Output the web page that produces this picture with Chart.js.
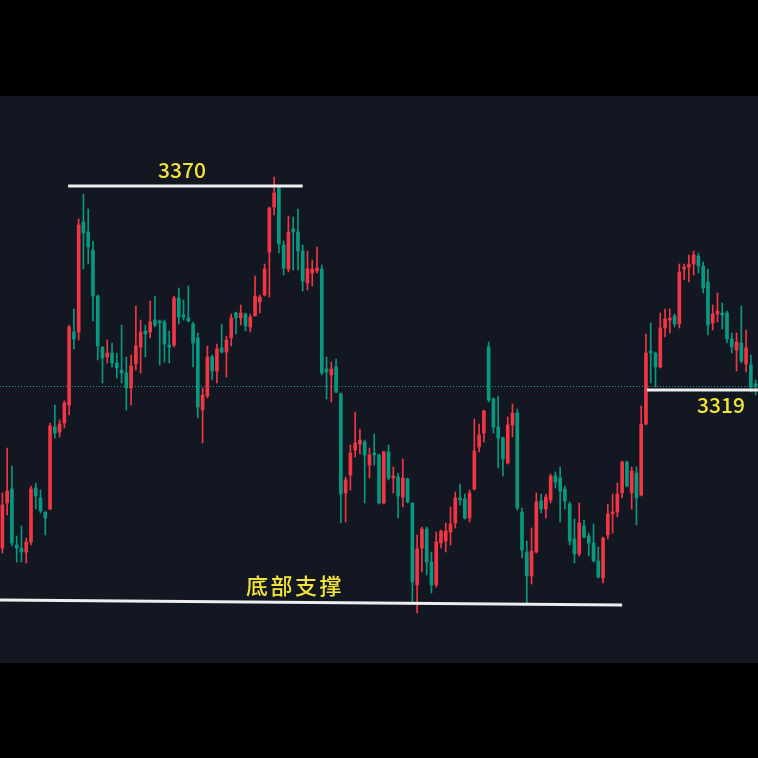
<!DOCTYPE html>
<html>
<head>
<meta charset="utf-8">
<script src="https://cdn.jsdelivr.net/npm/chart.js@4"></script>
<style>
  html, body { margin: 0; padding: 0; background: #000; }
  #wrap { width: 758px; height: 758px; position: relative; }
</style>
</head>
<body>
<div id="wrap"><canvas id="kChart"></canvas></div>
<script>
// K线数据
const categories = Array.from({ length: 159 }, (_, i) => String(i + 1));

const opens = [
  3279.5, 3290.75, 3294.25, 3280.25, 3279.5, 3278.5, 3281, 3294.5, 3292, 3288.5,
  3289.25, 3309.75, 3308.5, 3310.75, 3315.25, 3333.5, 3333.5, 3361, 3358.5, 3354,
  3342.5, 3329.75, 3327.25, 3328.25, 3325.75, 3324, 3323.25, 3319.5, 3325.5, 3329.75,
  3333.75, 3333.5, 3336.5, 3336.25, 3336, 3330.25, 3330.25, 3342, 3337.75, 3337,
  3335.5, 3332, 3314, 3317.5, 3327.25, 3323.75, 3329.5, 3328.5, 3332, 3338.25,
  3337, 3338, 3334.75, 3337.5, 3341, 3342.75, 3353.5, 3364.75, 3369.5, 3355.25,
  3349.25, 3359.25, 3358.5, 3353.75, 3345.75, 3348.25, 3348.75, 3349.25, 3324.25, 3322.75,
  3324.75, 3318, 3293.25, 3297.75, 3304, 3305.5, 3306, 3300.25, 3303.25, 3302.75,
  3290.75, 3303.5, 3297, 3297.25, 3292.25, 3296.75, 3290.75, 3270.25, 3279.5, 3284.25,
  3276, 3270.25, 3280.75, 3281.25, 3283.5, 3285.75, 3292, 3291.75, 3287, 3294.25,
  3304.75, 3308.25, 3329.75, 3316.75, 3309.75, 3307, 3300.75, 3310.25, 3313.25, 3288.5,
  3278.5, 3272.5, 3278.5, 3291.25, 3289.25, 3291.5, 3297.5, 3297, 3294.25, 3290.5,
  3281.75, 3278, 3285, 3282.5, 3280.75, 3276.25, 3272, 3282.75, 3288, 3288.5,
  3293.25, 3301, 3293.25, 3298.25, 3292.75, 3310.5, 3328.75, 3328.25, 3324.75, 3334.5,
  3336.5, 3337.5, 3335.5, 3349.25, 3349.75, 3350.5, 3352.5, 3350, 3346, 3335.75,
  3338, 3338.25, 3338.25, 3331.75, 3329, 3330.75, 3325.5, 3325.25, 3320.5
];
const highs = [
  3293.25, 3304.5, 3300, 3282.5, 3285, 3282, 3295, 3295.75, 3294, 3288.5,
  3310.75, 3315.25, 3311.5, 3316.25, 3335.25, 3339.25, 3361.75, 3368, 3364.25, 3356.25,
  3342.75, 3329.75, 3331.5, 3330.75, 3328.25, 3335.25, 3327.25, 3327.75, 3340, 3336.5,
  3335.25, 3341.25, 3342.5, 3336.5, 3336.5, 3333.75, 3342.5, 3344.5, 3341.5, 3345,
  3336, 3333.25, 3319.5, 3330, 3327.75, 3330.5, 3335.5, 3332.5, 3338, 3338.5,
  3340.25, 3338.25, 3338, 3347.5, 3342.75, 3350.5, 3364.75, 3372.25, 3369.75, 3356.25,
  3362.5, 3362.25, 3364.25, 3355.25, 3353.75, 3351.5, 3354.75, 3350.25, 3327.25, 3326,
  3326.75, 3318.25, 3297.25, 3305.25, 3313.5, 3309.25, 3306.5, 3304.5, 3308, 3303,
  3303.75, 3305.25, 3299.75, 3298.25, 3301.75, 3297, 3290.75, 3282.75, 3284.75, 3284.75,
  3278.5, 3283.5, 3284, 3285.75, 3289.75, 3293.5, 3295.5, 3293, 3294, 3311.75,
  3310.5, 3314, 3331, 3317, 3317.5, 3307.25, 3312.25, 3315.5, 3314.25, 3289.5,
  3281.25, 3284.5, 3293.25, 3293, 3293, 3298, 3298.5, 3299.75, 3295, 3291,
  3286.75, 3290.75, 3286.5, 3283.25, 3285.5, 3279.75, 3282.25, 3290.5, 3293, 3295.75,
  3301.25, 3301.25, 3299.75, 3299.75, 3315, 3333, 3335.75, 3328.5, 3338.25, 3339.25,
  3339.25, 3338, 3350.5, 3350.5, 3352.75, 3353.75, 3353.25, 3351, 3349.25, 3340.25,
  3343.25, 3340.75, 3338.75, 3333.25, 3333.25, 3340, 3334, 3327.75, 3321.5
];
const lows = [
  3278.25, 3287.75, 3280, 3276, 3276, 3275.75, 3280.25, 3289.25, 3288.25, 3282.75,
  3289, 3307, 3307.25, 3309.5, 3312.75, 3329.25, 3331.5, 3349.25, 3350.5, 3336.25,
  3326.5, 3320.75, 3325.75, 3324.75, 3322, 3320.75, 3314, 3315.25, 3324, 3323.25,
  3327.25, 3332, 3334.75, 3325.25, 3326, 3325.75, 3329.75, 3335.5, 3336.5, 3336,
  3324.75, 3312, 3305.75, 3317, 3321.5, 3320.75, 3328.25, 3322.25, 3330, 3333,
  3335.25, 3333.75, 3333.5, 3337.5, 3338.25, 3342.5, 3342.25, 3362.75, 3353.25, 3347.75,
  3348.5, 3349, 3349, 3343.75, 3344, 3345, 3348.25, 3322.75, 3316.75, 3316,
  3318.25, 3285.75, 3286, 3294, 3302.25, 3303, 3290.75, 3297, 3300.25, 3290.5,
  3290.5, 3296.5, 3293.25, 3287, 3289.75, 3290.75, 3266, 3263.25, 3273.5, 3272.75,
  3268.25, 3269.75, 3279.5, 3278.5, 3280.25, 3284.5, 3290.25, 3286.75, 3286, 3294,
  3303.5, 3306, 3316, 3308.25, 3299.5, 3297.5, 3300.5, 3307.25, 3289, 3277,
  3265.75, 3270.5, 3278.25, 3288.25, 3287, 3290.75, 3294.5, 3286, 3289.25, 3280.25,
  3275.75, 3277.5, 3282, 3277.5, 3276, 3272, 3270.75, 3281.75, 3283.25, 3287.25,
  3292, 3294.75, 3289.25, 3285.25, 3292.5, 3310.25, 3320.75, 3319.75, 3324.5, 3332.25,
  3333.25, 3334.75, 3334.5, 3346.5, 3346, 3347.75, 3348.25, 3343.25, 3332.75, 3334,
  3336, 3334.25, 3330.75, 3328.25, 3323.75, 3325.75, 3323.5, 3318.5, 3317.75
];
const closes = [
  3290.25, 3293.75, 3280.75, 3279.5, 3278.5, 3281, 3294.25, 3292.5, 3288.75, 3287,
  3310, 3308.25, 3310.5, 3315.75, 3334.75, 3331.75, 3360.25, 3358.25, 3354.75, 3342.5,
  3330, 3327, 3328.25, 3325.75, 3324.5, 3323.25, 3319.5, 3325, 3330, 3333.5,
  3333, 3336, 3335.25, 3335.75, 3330.5, 3329.75, 3342, 3337.25, 3337.25, 3336.25,
  3330.75, 3314.75, 3317.75, 3327.25, 3323.75, 3329.25, 3328.5, 3331.5, 3337, 3337,
  3338.25, 3335, 3337.25, 3342.5, 3342.25, 3349.25, 3364.5, 3368.25, 3355.5, 3349.5,
  3358.5, 3358.5, 3353.75, 3346.25, 3349.25, 3349.25, 3349.5, 3323.25, 3323.5, 3324.25,
  3318.5, 3293, 3296.5, 3303.25, 3305.75, 3306.5, 3302.75, 3302.75, 3302.75, 3290.75,
  3303.5, 3297, 3297.5, 3292.5, 3297, 3291, 3271, 3279.25, 3284.25, 3276,
  3270.25, 3281, 3283.75, 3283.75, 3285.5, 3292, 3291.5, 3287, 3293.25, 3303.75,
  3307.75, 3313.75, 3316.5, 3309.75, 3307, 3301.75, 3310.25, 3313.25, 3289.5, 3279,
  3272.5, 3278.75, 3291, 3289.25, 3292.25, 3297.5, 3296, 3293.75, 3291.25, 3281.25,
  3278, 3285.75, 3282.25, 3280.75, 3276.25, 3272.25, 3282, 3288, 3288.5, 3293,
  3301, 3295, 3298.75, 3292, 3310.5, 3328.25, 3328.25, 3324.75, 3334.5, 3336.75,
  3337, 3335.5, 3348.5, 3349.75, 3350.5, 3352.75, 3350, 3344.5, 3335.25, 3338,
  3338.75, 3337.75, 3331.75, 3329.75, 3331, 3326.25, 3329.5, 3319.75, 3320
];

// 标注
const resistanceLevel = 3370;
const pivotLevel = 3319;
const supportLevels = [3266.5, 3265.25];
const levelTexts = ['3370', '3319', '底部支撑'];

const upColor = '#f23645';
const downColor = '#089981';
const candleColors = opens.map((o, i) => closes[i] >= o ? upColor : downColor);

const overlay = {
  id: 'overlay',
  beforeDraw(chart) {
    const ctx = chart.ctx;
    ctx.save();
    ctx.fillStyle = '#000';
    ctx.fillRect(0, 0, chart.width, chart.height);
    ctx.fillStyle = '#131722';
    ctx.fillRect(0, 96, chart.width, 567);
    ctx.restore();
  },
  beforeDatasetsDraw(chart) {
    const ctx = chart.ctx;
    const y = Math.round(chart.scales.y.getPixelForValue(closes[closes.length - 1])) + 0.5;
    ctx.save();
    ctx.strokeStyle = '#1f9a86';
    ctx.lineWidth = 1;
    ctx.setLineDash([1, 2]);
    ctx.beginPath();
    ctx.moveTo(0, y);
    ctx.lineTo(chart.width, y);
    ctx.stroke();
    ctx.restore();
  },
  afterDatasetsDraw(chart) {
    const ctx = chart.ctx;
    const xs = chart.scales.x, ys = chart.scales.y;
    const area = chart.chartArea;
    ctx.save();
    ctx.strokeStyle = '#eeeeee';
    ctx.lineWidth = 3;
    // 3370 压力线
    let y1 = ys.getPixelForValue(resistanceLevel);
    ctx.beginPath();
    ctx.moveTo(xs.getPixelForValue(14) - 1, y1);
    ctx.lineTo(xs.getPixelForValue(63), y1);
    ctx.stroke();
    // 3319
    let y2 = ys.getPixelForValue(pivotLevel);
    ctx.beginPath();
    ctx.moveTo(xs.getPixelForValue(135) + 1, y2);
    ctx.lineTo(area.right, y2);
    ctx.stroke();
    // 底部支撑
    ctx.beginPath();
    ctx.moveTo(area.left, ys.getPixelForValue(supportLevels[0]));
    ctx.lineTo(xs.getPixelForValue(130), ys.getPixelForValue(supportLevels[1]));
    ctx.stroke();

    ctx.fillStyle = '#f2e338';
    ctx.font = '500 21px "Noto Sans CJK SC"';
    ctx.textAlign = 'center';
    ctx.fillText(levelTexts[0], 182, y1 - 8);
    ctx.textAlign = 'left';
    ctx.fillText(levelTexts[1], 697, y2 + 23);
    ctx.font = '500 22px "Noto Sans CJK SC"';
    const chars = Array.from(levelTexts[2]);
    chars.forEach((ch, i) => ctx.fillText(ch, 246 + i * 24.5, 594));
    ctx.restore();
  }
};

const config = {
  type: 'bar',
  data: {
    labels: categories,
    datasets: [
      {
        label: 'wick',
        data: lows.map((l, i) => [l, highs[i]]),
        backgroundColor: candleColors,
        barThickness: 1,
        grouped: false,
        order: 2
      },
      {
        label: 'body',
        data: opens.map((o, i) => [o, closes[i]]),
        backgroundColor: candleColors,
        barThickness: 3,
        minBarLength: 1,
        grouped: false,
        order: 1
      }
    ]
  },
  options: {
    responsive: true,
    maintainAspectRatio: false,
    animation: false,
    devicePixelRatio: 1,
    events: [],
    layout: { padding: 0 },
    scales: {
      x: { display: false, offset: true },
      y: { display: false, min: 3227, max: 3416.5 }
    },
    plugins: {
      legend: { display: false },
      tooltip: { enabled: false }
    }
  },
  plugins: [overlay]
};

let kChart = new Chart(document.getElementById('kChart'), config);
</script>
</body>
</html>
